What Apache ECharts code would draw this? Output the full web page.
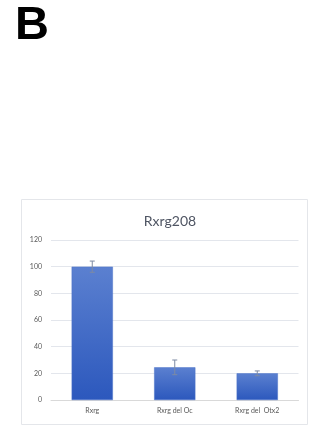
<!DOCTYPE html>
<html><head><meta charset="utf-8">
<script src="https://cdn.jsdelivr.net/npm/echarts@6/dist/echarts.min.js"></script>
<style>html,body{margin:0;padding:0;background:#fff}#c{width:315px;height:429px}</style>
</head><body><div id="c"></div>
<script>
const categories = ['Rxrg', 'Rxrg del Oc', 'Rxrg del  Otx2'];
const values = [100, 24.5, 20];
const errors = [4.2, 5.5, 1.8];
const yTicks = [0, 20, 40, 60, 80, 100, 120];

const chart = echarts.init(document.getElementById('c'), null, {renderer: 'canvas'});
const errData = categories.map((c, i) => [i, values[i] - errors[i], values[i] + errors[i]]);
chart.setOption({
  animation: false,
  backgroundColor: '#fff',
  graphic: [
    {type: 'rect', shape: {x: 21.5, y: 199.5, width: 286, height: 225}, style: {fill: 'none', stroke: '#e4e6ea', lineWidth: 1}},
    {type: 'text', left: 15, top: 3, style: {text: 'B', font: 'bold 47px "Liberation Sans", Arial', fill: '#000'}}
  ],
  title: {
    text: 'Rxrg208', left: 165, top: 209, textAlign: 'center',
    textStyle: {fontFamily: 'Lato, "Open Sans", sans-serif', fontSize: 14, fontWeight: 'normal', color: '#4f5563'}
  },
  grid: {left: 51, right: 16.5, top: 240, bottom: 29, containLabel: false},
  xAxis: {
    type: 'category', data: categories,
    axisLine: {lineStyle: {color: '#d9d9d9'}}, axisTick: {show: false},
    axisLabel: {fontSize: 7, color: '#595959', margin: 7, fontFamily: 'Lato, sans-serif'}
  },
  yAxis: {
    type: 'value', min: 0, max: 120, interval: 20,
    axisLine: {show: false}, axisTick: {show: false},
    splitLine: {lineStyle: {color: '#e3e6ec'}},
    axisLabel: {fontSize: 7, color: '#595959', margin: 9, fontFamily: 'Lato, sans-serif',
      formatter: v => yTicks.includes(v) ? String(v) : ''}
  },
  series: [
    {
      type: 'bar', data: values, barWidth: '50%',
      itemStyle: {
        color: new echarts.graphic.LinearGradient(0, 0, 0, 1, [
          {offset: 0, color: '#5b80d0'}, {offset: 1, color: '#2c58bd'}
        ]),
        borderColor: '#4a72c8', borderWidth: 0.5
      }
    },
    {
      type: 'custom', data: errData, z: 10,
      renderItem: function (params, api) {
        const x = api.value(0);
        const lo = api.coord([x, api.value(1)]);
        const hi = api.coord([x, api.value(2)]);
        const hw = 2.5;
        const st = {stroke: '#7d8aa3', lineWidth: 1};
        return {type: 'group', children: [
          {type: 'line', shape: {x1: hi[0], y1: hi[1], x2: lo[0], y2: lo[1]}, style: st},
          {type: 'line', shape: {x1: hi[0] - hw, y1: hi[1], x2: hi[0] + hw, y2: hi[1]}, style: st},
          {type: 'line', shape: {x1: lo[0] - hw, y1: lo[1], x2: lo[0] + hw, y2: lo[1]}, style: st}
        ]};
      }
    }
  ]
});
</script></body></html>
